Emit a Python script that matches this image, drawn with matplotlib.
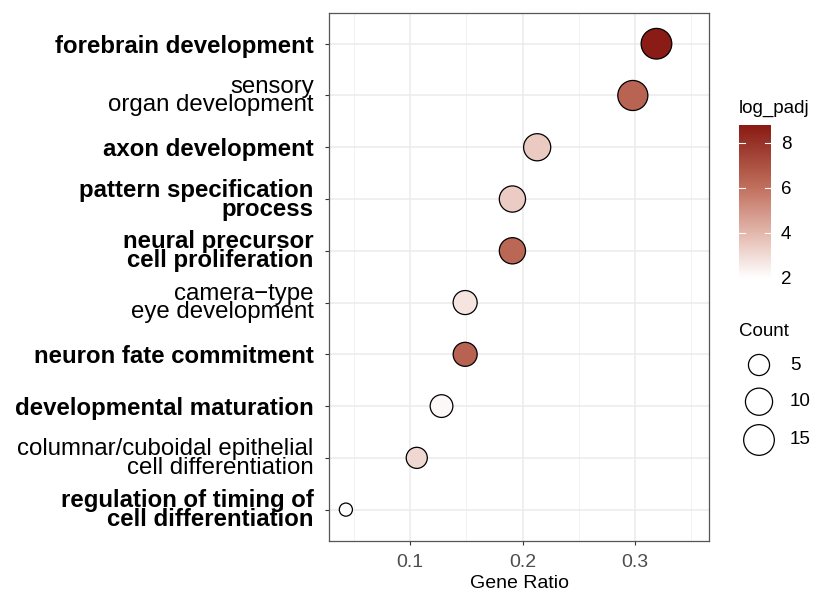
import numpy as np
import matplotlib
matplotlib.use("Agg")
import matplotlib.pyplot as plt
from matplotlib.colors import LinearSegmentedColormap, Normalize
from matplotlib.ticker import MultipleLocator

plt.rcParams['font.family'] = ['Liberation Sans', 'DejaVu Sans']

# GO terms, top to bottom
terms = ['forebrain development',
         'sensory\norgan development',
         'axon development',
         'pattern specification\nprocess',
         'neural precursor\ncell proliferation',
         'camera\u2212type\neye development',
         'neuron fate commitment',
         'developmental maturation',
         'columnar/cuboidal epithelial\ncell differentiation',
         'regulation of timing of\ncell differentiation']
bold = [True, False, True, True, True, False, True, True, False, True]
gene_ratio = [0.319, 0.298, 0.213, 0.191, 0.191, 0.149, 0.149, 0.128, 0.106, 0.043]
count = [15, 14, 10, 9, 9, 7, 7, 6, 5, 2]
log_padj = [8.75, 6.4, 3.5, 3.45, 6.3, 2.75, 6.45, 2.2, 3.1, 2.0]
size_breaks = [5, 10, 15]
cbar_ticks = [2, 4, 6, 8]

cmap = LinearSegmentedColormap.from_list(
    'padj', [(0.0, '#FFFFFF'), (0.3, '#E3B6AB'), (0.6, '#C06E5C'),
             (0.9, '#963026'), (1.0, '#8B1A14')])
norm = Normalize(vmin=2.0, vmax=8.78)


def msize(c):
    # diameter in px grows with log(count), minus the stroke
    d = 8.3 + 8.7 * np.log(np.asarray(c, dtype=float)) - 1.2
    return (d * 0.72) ** 2


fig = plt.figure(figsize=(8.19, 5.92), dpi=100)
ax = fig.add_axes([0.4017, 0.0867, 0.464, 0.8919])

n = len(terms)
ypos = np.arange(n)[::-1] + 1
ax.scatter(gene_ratio, ypos, s=msize(count), c=log_padj, cmap=cmap, norm=norm,
           edgecolors='black', linewidths=0.9, zorder=3)

ax.set_xlim(0.028, 0.3657)
ax.set_ylim(0.4, n + 0.6)
ax.xaxis.set_minor_locator(MultipleLocator(0.05))
ax.set_xticks([0.1, 0.2, 0.3])
ax.set_xticklabels(['0.1', '0.2', '0.3'])
ax.set_yticks(ypos)
ax.set_yticklabels(terms, linespacing=0.78)
for lab, b in zip(ax.get_yticklabels(), bold):
    lab.set_fontweight('bold' if b else 'normal')
    lab.set_fontsize(17.3)
    lab.set_color('black')

ax.grid(which='major', color='#EBEBEB', linewidth=1.1, zorder=0)
ax.grid(which='minor', axis='x', color='#F2F2F2', linewidth=0.7, zorder=0)
ax.set_axisbelow(True)
ax.tick_params(axis='x', which='major', labelsize=14, labelcolor='#4D4D4D',
               color='#333333', length=3, width=0.8, pad=6.5)
ax.tick_params(axis='x', which='minor', length=0)
ax.tick_params(axis='y', color='#333333', length=3, width=0.8, pad=8)
for sp in ax.spines.values():
    sp.set_color('#555555')
    sp.set_linewidth(0.9)
ax.set_xlabel('Gene Ratio', fontsize=14, labelpad=3)

# colour bar for log_padj
cax = fig.add_axes([739 / 819, 1 - 278 / 592, 32 / 819, 153 / 592])
grad = np.linspace(norm.vmin, norm.vmax, 256).reshape(-1, 1)
cax.imshow(grad, aspect='auto', cmap=cmap, norm=norm, origin='lower',
           extent=[0, 1, norm.vmin, norm.vmax])
cax.set_xlim(0, 1)
cax.set_ylim(norm.vmin, norm.vmax)
cax.set_xticks([])
cax.yaxis.tick_right()
cax.set_yticks(cbar_ticks)
cax.tick_params(axis='y', length=0, labelsize=13.5, pad=7)
for t in cbar_ticks:
    cax.plot([0, 0.2], [t, t], color='white', lw=0.8)
    cax.plot([0.8, 1], [t, t], color='white', lw=0.8)
for sp in cax.spines.values():
    sp.set_visible(False)
fig.text(739 / 819, 1 - 108 / 592, 'log_padj', fontsize=13.5, ha='left', va='center')

# size legend for Count
lax = fig.add_axes([730 / 819, 1 - 460 / 592, 89 / 819, 115 / 592])
lax.set_xlim(730, 819)
lax.set_ylim(460, 345)
lax.axis('off')
ly = [365, 401.7, 440]
lax.scatter([759] * 3, ly, s=msize(size_breaks), facecolors='white',
            edgecolors='black', linewidths=0.9, clip_on=False)
for yy, v in zip(ly, size_breaks):
    lax.text(790, yy, str(v), fontsize=13.5, va='center', ha='left')
fig.text(739 / 819, 1 - 331.7 / 592, 'Count', fontsize=13.5, ha='left', va='center')

fig.savefig('out.png', dpi=100)
